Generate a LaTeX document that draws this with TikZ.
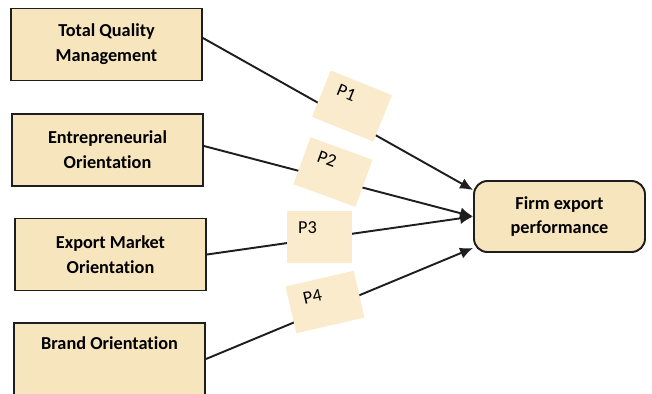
\documentclass[tikz,border=0pt]{standalone}
\usepackage{fontspec}
\setmainfont[Ligatures=NoCommon]{Carlito}
\usetikzlibrary{arrows.meta}
\usetikzlibrary{calc}
\definecolor{parchment}{RGB}{247,229,190}
\definecolor{parchment-light}{RGB}{249,235,204}
\definecolor{rahmen}{RGB}{30,30,30}

\begin{document}
\begin{tikzpicture}[x=0.02cm, y=-0.02cm,
    konstrukt/.style={draw=rahmen, line width=1.1pt, fill=parchment, minimum width=3.82cm, minimum height=1.44cm, align=center, font=\fontsize{10.4}{14.2}\selectfont\bfseries},
    pbox/.style={fill=parchment-light, minimum width=1.32cm, minimum height=1.0cm, transform shape},
    plabel/.style={font=\fontsize{10.4}{12}\selectfont, transform shape},
    pfeil/.style={rahmen, line width=1.1pt, -{Latex[length=2.6mm, width=2.3mm]}}]

    \useasboundingbox (0,0) rectangle (652,393);

        \node[konstrukt] (tqm) at (106.5,44.5) {Total Quality\\Management};
        \node[konstrukt] (eo) at (107.5,150) {Entrepreneurial\\Orientation};
        \node[konstrukt] (emo) at (110.5,254.5) {Export Market\\Orientation};
        \node[konstrukt] (bo) at (109.5,359) {Brand Orientation\\\strut};

        \node[konstrukt, minimum width=3.42cm, minimum height=1.42cm, rounded corners=1.6ex] (firm) at (559.5,216.5) {Firm export\\performance};

        % Hypothesen
        \draw[pfeil] ([yshift=0.13cm]tqm.east) -- ([yshift=0.53cm]firm.west);
        \draw[pfeil] ([yshift=0.08cm]eo.east) -- (firm.west);
        \draw[pfeil] (emo.east) -- (firm.west);
        \draw[pfeil] (bo.east) -- ([yshift=-0.63cm]firm.west);

        \begin{scope}[shift={(352,106)}, rotate=-22]
            \node[pbox] (p1) at (0,0) {};
            \node[plabel] at (-10,-10) {P1};
        \end{scope}

        \begin{scope}[shift={(333,172)}, rotate=-20]
            \node[pbox] (p2) at (0,0) {};
            \node[plabel] at (-10,-10) {P2};
        \end{scope}

        \begin{scope}[shift={(319.5,237)}]
            \node[pbox, minimum height=1.04cm] (p3) at (0,0) {};
            \node[plabel] at (-12,-9) {P3};
        \end{scope}

        \begin{scope}[shift={(325,302)}, rotate=13]
            \node[pbox, minimum width=1.4cm, minimum height=0.96cm] (p4) at (0,0) {};
            \node[plabel] at (-11,-8) {P4};
        \end{scope}

\end{tikzpicture}
\end{document}
